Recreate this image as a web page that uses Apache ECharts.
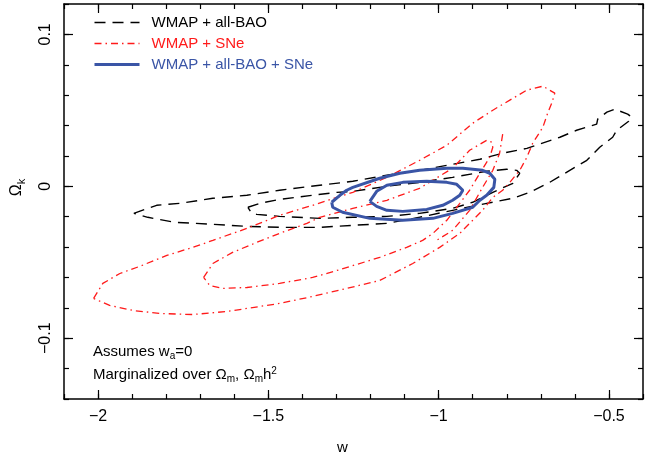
<!DOCTYPE html>
<html>
<head>
<meta charset="utf-8">
<script src="https://cdn.jsdelivr.net/npm/echarts@6/dist/echarts.min.js"></script>
<style>
  html, body { margin: 0; padding: 0; background: #fff; }
  #chart { width: 656px; height: 462px; }
</style>
</head>
<body>
<div id="chart"></div>
<script>
// axis ticks
const xMajorTicks = [-2, -1.5, -1, -0.5];
const yMajorTicks = [-0.1, 0, 0.1];

const seriesNames = ['WMAP + all-BAO', 'WMAP + SNe', 'WMAP + all-BAO + SNe'];

// WMAP + all-BAO (black dashed), 95% and 68% contours
const baoOuterW = [-1.895,-1.828,-1.760,-1.663,-1.563,-1.467,-1.349,-1.252,-1.152,-1.056,-0.959,-0.879,-0.812,-0.741,-0.644,-0.595,-0.536,-0.533,-0.506,-0.483,-0.445,-0.433,-0.442,-0.477,-0.489,-0.527,-0.565,-0.615,-0.674,-0.733,-0.782,-0.859,-0.959,-1.056,-1.152,-1.252,-1.349,-1.467,-1.563,-1.663,-1.775,-1.854,-1.895];
const baoOuterK = [-0.0178,-0.0125,-0.0112,-0.0079,-0.0059,-0.0026,0.0007,0.0033,0.0073,0.0105,0.0145,0.0178,0.0218,0.0250,0.0323,0.0369,0.0409,0.0442,0.0488,0.0508,0.0475,0.0455,0.0428,0.0369,0.0323,0.0257,0.0171,0.0105,0.0026,-0.0040,-0.0079,-0.0112,-0.0158,-0.0204,-0.0244,-0.0257,-0.0270,-0.0270,-0.0264,-0.0250,-0.0237,-0.0204,-0.0178];
const baoInnerW = [-1.560,-1.525,-1.467,-1.370,-1.299,-1.252,-1.152,-1.056,-0.959,-0.859,-0.800,-0.771,-0.762,-0.782,-0.841,-0.900,-0.959,-1.056,-1.152,-1.252,-1.349,-1.467,-1.534,-1.549,-1.560];
const baoInnerK = [-0.0138,-0.0112,-0.0086,-0.0059,-0.0040,-0.0033,0,0.0026,0.0059,0.0099,0.0112,0.0105,0.0086,0.0020,-0.0040,-0.0105,-0.0145,-0.0178,-0.0198,-0.0204,-0.0211,-0.0198,-0.0185,-0.0178,-0.0138];

// WMAP + SNe (red dash-dot)
const sneOuterW = [-2.013,-1.986,-1.936,-1.878,-1.798,-1.722,-1.663,-1.563,-1.467,-1.370,-1.299,-1.252,-1.152,-1.056,-0.976,-0.900,-0.841,-0.791,-0.741,-0.694,-0.659,-0.668,-0.680,-0.694,-0.724,-0.741,-0.762,-0.791,-0.812,-0.841,-0.871,-0.909,-0.938,-0.997,-1.076,-1.173,-1.270,-1.370,-1.467,-1.563,-1.622,-1.722,-1.819,-1.898,-1.966,-2.013];
const sneOuterK = [-0.0738,-0.0639,-0.0574,-0.0527,-0.0455,-0.0402,-0.0356,-0.0277,-0.0191,-0.0125,-0.0073,-0.0040,0.0059,0.0171,0.0270,0.0415,0.0501,0.0567,0.0633,0.0659,0.0613,0.0547,0.0481,0.0389,0.0283,0.0191,0.0105,0.0026,-0.0026,-0.0073,-0.0158,-0.0244,-0.0310,-0.0402,-0.0508,-0.0620,-0.0672,-0.0725,-0.0771,-0.0804,-0.0824,-0.0844,-0.0837,-0.0817,-0.0784,-0.0738];
const sneInnerW = [-1.690,-1.663,-1.605,-1.534,-1.467,-1.387,-1.349,-1.252,-1.152,-1.056,-0.959,-0.909,-0.859,-0.844,-0.841,-0.850,-0.879,-0.909,-0.938,-0.976,-1.017,-1.047,-1.094,-1.173,-1.299,-1.370,-1.467,-1.563,-1.634,-1.672,-1.690];
const sneInnerK = [-0.0600,-0.0508,-0.0435,-0.0369,-0.0310,-0.0244,-0.0204,-0.0145,-0.0092,-0.0013,0.0119,0.0237,0.0303,0.0290,0.0257,0.0191,0.0086,-0.0026,-0.0112,-0.0224,-0.0310,-0.0356,-0.0402,-0.0468,-0.0554,-0.0600,-0.0639,-0.0666,-0.0672,-0.0653,-0.0600];
const sneArmW = [-0.812,-0.821,-0.841,-0.871,-0.909,-0.959,-1.006];
const sneArmK = [0.0343,0.0218,0.0105,-0.0007,-0.0158,-0.0290,-0.0356];

// WMAP + all-BAO + SNe (blue solid)
const allOuterW = [-1.314,-1.290,-1.270,-1.252,-1.173,-1.114,-1.056,-0.976,-0.929,-0.871,-0.850,-0.835,-0.838,-0.859,-0.879,-0.900,-0.959,-1.017,-1.105,-1.202,-1.282,-1.311,-1.314];
const allOuterK = [-0.0105,-0.0059,-0.0026,-0.0007,0.0053,0.0086,0.0105,0.0119,0.0119,0.0105,0.0086,0.0046,-0.0007,-0.0059,-0.0092,-0.0138,-0.0178,-0.0211,-0.0224,-0.0211,-0.0171,-0.0138,-0.0105];
const allInnerW = [-1.202,-1.182,-1.152,-1.105,-1.035,-0.976,-0.947,-0.929,-0.938,-0.959,-0.988,-1.035,-1.105,-1.152,-1.182,-1.202];
const allInnerK = [-0.0099,-0.0033,0.0007,0.0026,0.0033,0.0026,0.0013,-0.0026,-0.0059,-0.0092,-0.0125,-0.0152,-0.0165,-0.0158,-0.0132,-0.0099];

const FONT = 'Liberation Sans';
const BLACK = '#000000';
const RED = '#ff1a1a';
const BLUE = '#3a55a6';

const zip = (xs, ys) => xs.map((x, i) => [x, ys[i]]);
const fmt = v => (v < 0 ? '\u2212' + String(-v) : String(v));

function contour(name, w, k, style) {
  return {
    type: 'line',
    name: name,
    data: zip(w, k),
    showSymbol: false,
    symbol: 'none',
    silent: true,
    itemStyle: { color: style.color },
    lineStyle: style
  };
}

const dashStyle = { color: BLACK, width: 1.4, type: [11, 7] };
const dotDashStyle = { color: RED, width: 1.3, type: [7, 4, 1.5, 4] };
const solidStyle = { color: BLUE, width: 3, type: 'solid' };

// minor ticks come from the interval (counted from min), major ticks from customValues
function xAx(pos, major) {
  return {
    type: 'value', min: -2.1, max: -0.4, position: pos,
    interval: major ? undefined : 0.1,
    axisLine: { show: !major, onZero: false, lineStyle: { color: BLACK, width: 1.5 } },
    axisTick: major
      ? { show: true, inside: true, length: 9, customValues: xMajorTicks, lineStyle: { color: BLACK, width: 1.2 } }
      : { show: true, inside: true, length: 5, lineStyle: { color: BLACK, width: 1.2 } },
    axisLabel: (!major && pos === 'bottom')
      ? { show: true, customValues: xMajorTicks, formatter: fmt, color: BLACK, fontSize: 16, fontFamily: FONT, margin: 10 }
      : { show: false },
    splitLine: { show: false }
  };
}
function yAx(pos, major) {
  return {
    type: 'value', min: -0.14, max: 0.12, position: pos,
    interval: major ? undefined : 0.02,
    axisLine: { show: !major, onZero: false, lineStyle: { color: BLACK, width: 1.5 } },
    axisTick: major
      ? { show: true, inside: true, length: 9, customValues: yMajorTicks, lineStyle: { color: BLACK, width: 1.2 } }
      : { show: true, inside: true, length: 5, lineStyle: { color: BLACK, width: 1.2 } },
    axisLabel: (!major && pos === 'left')
      ? { show: true, customValues: yMajorTicks, formatter: fmt, rotate: 90, color: BLACK, fontSize: 16, fontFamily: FONT, margin: 10 }
      : { show: false },
    splitLine: { show: false }
  };
}

const xAxes = [xAx('bottom', false), xAx('bottom', true), xAx('top', false), xAx('top', true)];
Object.assign(xAxes[0], {
  name: 'w', nameLocation: 'middle', nameGap: 41, nameMoveOverlap: false,
  nameTextStyle: { color: BLACK, fontSize: 15, fontFamily: FONT, padding: [0, 22, 0, 0] }
});
const yAxes = [yAx('left', false), yAx('left', true), yAx('right', false), yAx('right', true)];
Object.assign(yAxes[0], {
  name: '{o|\u03A9}{k|k}', nameLocation: 'middle', nameGap: 36, nameMoveOverlap: false,
  nameTextStyle: {
    padding: [0, 0, 0, 28],
    rich: {
      o: { color: BLACK, fontSize: 16, fontFamily: FONT, lineHeight: 22 },
      k: { color: BLACK, fontSize: 11, fontFamily: FONT, lineHeight: 13, padding: [9, 0, 0, 0] }
    }
  }
});

const noteRich = {
  t: { fill: BLACK, fontSize: 15, fontFamily: FONT, lineHeight: 20 },
  s: { fill: BLACK, fontSize: 10, fontFamily: FONT, lineHeight: 12, padding: [8, 0, 0, 0] },
  u: { fill: BLACK, fontSize: 10, fontFamily: FONT, lineHeight: 12, padding: [0, 0, 8, 0] }
};

const chart = echarts.init(document.getElementById('chart'), null, { renderer: 'canvas' });
chart.setOption({
  animation: false,
  backgroundColor: '#ffffff',
  grid: { left: 64, right: 13, top: 4, bottom: 63, containLabel: false, outerBoundsMode: 'none' },
  xAxis: xAxes,
  yAxis: yAxes,
  legend: {
    orient: 'vertical', left: 93, top: 15, padding: 0,
    itemWidth: 45, itemHeight: 14, itemGap: 6,
    selectedMode: false,
    itemStyle: { opacity: 0 },
    lineStyle: { width: 'inherit' },
    textStyle: { fontSize: 15, fontFamily: FONT, padding: [0, 0, 0, 7] },
    data: [
      { name: seriesNames[0], textStyle: { color: BLACK } },
      { name: seriesNames[1], textStyle: { color: RED } },
      { name: seriesNames[2], textStyle: { color: BLUE } }
    ]
  },
  graphic: [
    { type: 'text', left: 93, top: 343, silent: true,
      style: { text: '{t|Assumes w}{s|a}{t|=0}', rich: noteRich } },
    { type: 'text', left: 93, top: 366, silent: true,
      style: { text: '{t|Marginalized over \u03A9}{s|m}{t|, \u03A9}{s|m}{t|h}{u|2}', rich: noteRich } }
  ],
  series: [
    contour(seriesNames[0], baoOuterW, baoOuterK, dashStyle),
    contour(seriesNames[0], baoInnerW, baoInnerK, dashStyle),
    contour(seriesNames[1], sneOuterW, sneOuterK, dotDashStyle),
    contour(seriesNames[1], sneInnerW, sneInnerK, dotDashStyle),
    contour(seriesNames[1], sneArmW, sneArmK, dotDashStyle),
    contour(seriesNames[2], allOuterW, allOuterK, solidStyle),
    contour(seriesNames[2], allInnerW, allInnerK, solidStyle)
  ]
});
</script>
</body>
</html>
